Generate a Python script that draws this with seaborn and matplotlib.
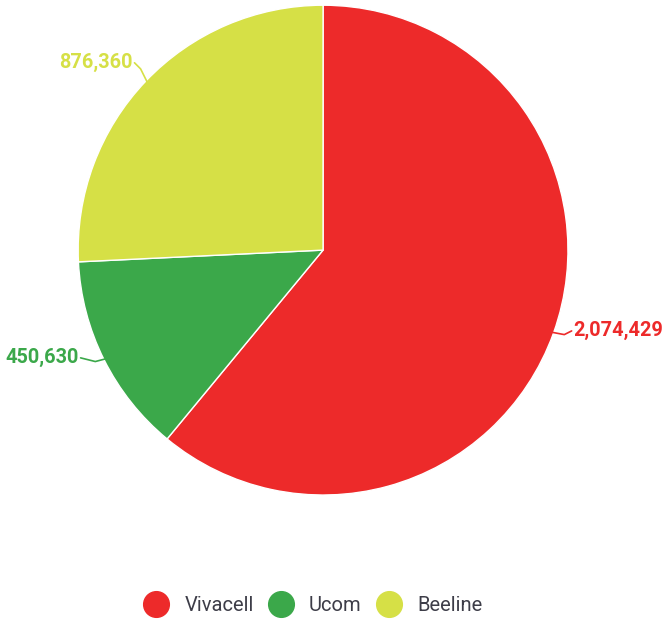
import numpy as np
import seaborn as sns
import matplotlib.pyplot as plt
from matplotlib.lines import Line2D

# data
operators = ['Vivacell', 'Ucom', 'Beeline']
subscribers = [2074429, 450630, 876360]
colors = ['#ED2A2A', '#3BA84A', '#D6E046']

sns.set_theme(style="white")
plt.rcParams['font.family'] = ['Roboto', 'DejaVu Sans']

fig = plt.figure(figsize=(6.62, 6.2), dpi=100)
ax = fig.add_axes([0.118, 0.2016, 0.740, 0.790])

wedges, _ = ax.pie(subscribers, colors=colors, startangle=90, counterclock=False,
                   radius=1.0, wedgeprops=dict(edgecolor='white', linewidth=1))
ax.set_xlim(-1, 1)
ax.set_ylim(-1, 1)
ax.set_aspect('equal')
ax.axis('off')

# label anchor, kink point, alignment
label_pos = {
    'Vivacell': ((1.015, -0.33), (0.985, -0.345), 'left'),
    'Ucom': ((-0.99, -0.44), (-0.93, -0.455), 'right'),
    'Beeline': ((-0.77, 0.765), (-0.745, 0.74), 'right'),
}

for w, name, val, col in zip(wedges, operators, subscribers, colors):
    mid = np.deg2rad((w.theta1 + w.theta2) / 2)
    px, py = np.cos(mid), np.sin(mid)
    txt, kink, ha = label_pos[name]
    ax.plot([px * 0.99, kink[0], txt[0]], [py * 0.99, kink[1], txt[1]],
            color=col, lw=1.2, clip_on=False)
    ax.text(txt[0] + (0.008 if ha == 'left' else -0.008), txt[1], f"{val:,}",
            color=col, fontsize=14.3, fontweight='bold', ha=ha, va='center')

handles = [Line2D([0], [0], marker='o', color='none', markerfacecolor=c,
                  markeredgecolor=c, markersize=18.5) for c in colors]
fig.legend(handles, operators, loc='center', bbox_to_anchor=(0.473, 0.024),
           ncol=3, frameon=False, fontsize=14.5, handletextpad=0.8,
           handlelength=1.2, columnspacing=0.75, labelcolor='#3d3d48')

plt.savefig('out.png', dpi=100)
